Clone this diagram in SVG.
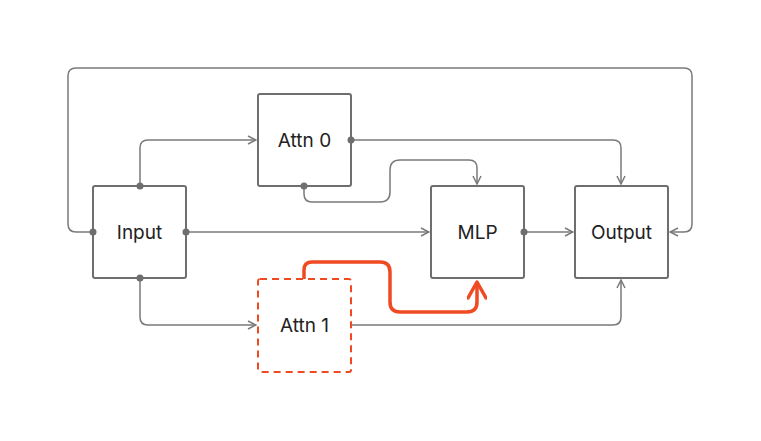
<svg xmlns="http://www.w3.org/2000/svg" width="761" height="441" viewBox="0 0 761 441">
<style>
.box{fill:#fff;stroke:#6e6e6e;stroke-width:2}
.c{fill:none;stroke:#7a7a7a;stroke-width:1.5;stroke-linejoin:round}
.t{font-family:Inter,"Liberation Sans",sans-serif;font-size:19px;fill:#222;text-anchor:middle;dominant-baseline:central}
.d{fill:#6e6e6e}
</style>
<defs>
<marker id="a" viewBox="0 0 10 10" refX="9" refY="5" markerWidth="10" markerHeight="10" markerUnits="userSpaceOnUse" orient="auto"><path d="M1,1L9,5L1,9" fill="none" stroke="#7a7a7a" stroke-width="1.5"/></marker>
<marker id="ao" viewBox="0 0 20 20" refX="18" refY="10" markerWidth="20" markerHeight="20" markerUnits="userSpaceOnUse" orient="auto"><path d="M2,1L18,10L2,19" fill="none" stroke="#f04a23" stroke-width="3.5" stroke-linecap="round" stroke-linejoin="round"/></marker>
</defs>
<rect width="761" height="441" fill="#fff"/>
<g id="connectors">
<path class="c" d="M93,232H76Q68,232 68,224V76Q68,68 76,68H684Q692,68 692,76V224Q692,232 684,232H670" marker-end="url(#a)"/>
<path class="c" d="M140,186V148Q140,140 148,140H256" marker-end="url(#a)"/>
<path class="c" d="M186,232H429" marker-end="url(#a)"/>
<path class="c" d="M140,278V317Q140,325 148,325H256" marker-end="url(#a)"/>
<path class="c" d="M351,140H613Q621,140 621,148V184" marker-end="url(#a)"/>
<path class="c" d="M304,186V194Q304,202 312,202H380Q390,202 390,192V170Q390,160 400,160H469Q477,160 477,168V184" marker-end="url(#a)"/>
<path class="c" d="M524,232H573" marker-end="url(#a)"/>
<path class="c" d="M351,325H613Q621,325 621,317V280" marker-end="url(#a)"/>
<path d="M304,279V270Q304,262 312,262H380Q390,262 390,272V302Q390,312 400,312H467Q477,312 477,302V282" fill="none" stroke="#f04a23" stroke-width="3.5" stroke-linejoin="round" marker-end="url(#ao)"/>
</g>
<g id="input"><rect class="box" x="93" y="186" width="93" height="92" rx="2"/><text class="t" x="139.5" y="232">Input</text></g>
<g id="attn0"><rect class="box" x="258" y="94" width="93" height="92" rx="2"/><text class="t" x="304.5" y="140">Attn 0</text></g>
<g id="mlp"><rect class="box" x="431" y="186" width="93" height="92" rx="2"/><text class="t" x="477.5" y="232">MLP</text></g>
<g id="output"><rect class="box" x="575" y="186" width="93" height="92" rx="2"/><text class="t" x="621.5" y="232">Output</text></g>
<g id="attn1"><rect x="258" y="279" width="93" height="93" rx="2" fill="#fff" stroke="#f04a23" stroke-width="2" stroke-dasharray="7,5"/><text class="t" x="304.5" y="325">Attn 1</text></g>
<g id="dots">
<circle class="d" cx="93" cy="232" r="3.5"/><circle class="d" cx="140" cy="186" r="3.5"/><circle class="d" cx="186" cy="232" r="3.5"/><circle class="d" cx="140" cy="278" r="3.5"/>
<circle class="d" cx="351" cy="140" r="3.5"/><circle class="d" cx="304" cy="186" r="3.5"/><circle class="d" cx="524" cy="232" r="3.5"/>
</g>
</svg>
